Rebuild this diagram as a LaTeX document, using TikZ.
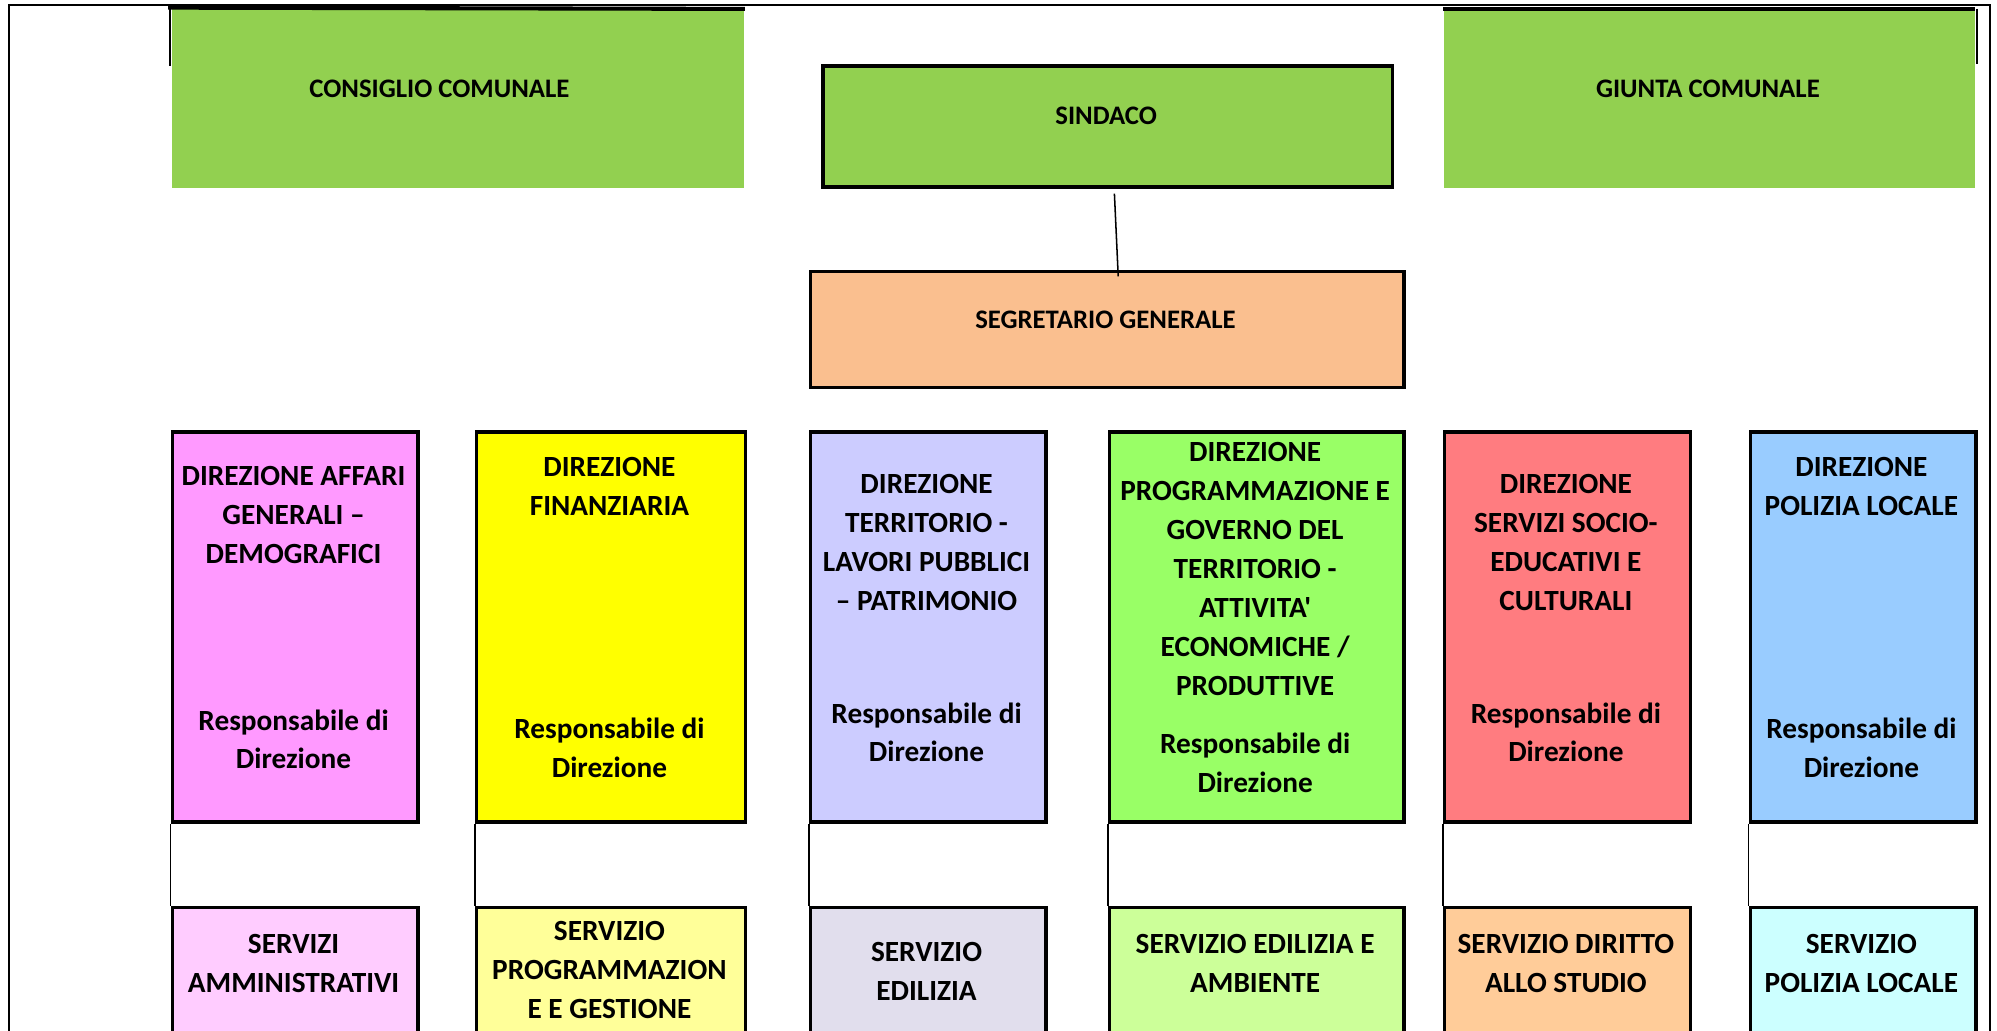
\documentclass[tikz,border=0pt]{standalone}
\usepackage{fontspec}
\newfontfamily\carl{Carlito}
\definecolor{topgreen}{HTML}{92D050}
\definecolor{segr}{HTML}{FABF8F}
\definecolor{dpink}{HTML}{FF99FF}
\definecolor{dyellow}{HTML}{FFFF00}
\definecolor{dlav}{HTML}{CCCCFF}
\definecolor{dgreen}{HTML}{99FF66}
\definecolor{dred}{HTML}{FF7C80}
\definecolor{dblue}{HTML}{99CCFF}
\definecolor{spink}{HTML}{FFCCFF}
\definecolor{syellow}{HTML}{FFFF99}
\definecolor{slav}{HTML}{E1DEED}
\definecolor{sgreen}{HTML}{CCFF99}
\definecolor{sorange}{HTML}{FFCC99}
\definecolor{scyan}{HTML}{CCFFFF}
\tikzset{
  box/.style={draw=black, line width=1.35pt, inner sep=0pt, anchor=north west},
  plainbox/.style={draw=none, inner sep=0pt, anchor=north west},
  toptxt/.style={font=\carl\bfseries\fontsize{10.5}{15.5}\selectfont, align=center, inner sep=0pt},
  txt/.style={font=\carl\bfseries\fontsize{11.5}{15.3}\selectfont, align=center, inner sep=0pt},
  conn/.style={draw=black, line width=0.6pt},
  frame/.style={draw=black, line width=1.1pt}
}
\begin{document}
\begin{tikzpicture}[x=0.5pt,y=-0.5pt]
\useasboundingbox (0,0) rectangle (1568,809);
\clip (0,0) rectangle (1568,809);
% outer frame
\coordinate (f1) at (7,815);
\coordinate (f2) at (7,4);
\coordinate (f3) at (1562.5,4);
\coordinate (f4) at (1562.5,815);
\draw[frame] (f1) -- (f2) -- (f3) -- (f4);
% top row
\node[plainbox, fill=topgreen, minimum width=224.5pt, minimum height=70pt] (cons) at (135,7) {};
\node[toptxt] (tcons) at (345,70) {CONSIGLIO COMUNALE};
\draw[line width=1.6pt] (cons.north west) ++(-3,-1) coordinate (ca) -- (cons.north east);
\draw[line width=1.1pt] (ca) ++(1.5,0) coordinate (cb) -- ++(0,46) coordinate (cc);
\node[plainbox, fill=topgreen, minimum width=208.5pt, minimum height=70pt] (giun) at (1133,7) {};
\node[toptxt] (tgiun) at (1341,70) {GIUNTA COMUNALE};
\draw[line width=1.6pt] (giun.north west) -- (giun.north east) ++(2,0) coordinate (ga);
\draw[line width=1.1pt] (ga) ++(-0.5,0) coordinate (gb) -- ++(0,43) coordinate (gc);
\node[box, fill=topgreen, minimum width=223.5pt, minimum height=47.5pt] (sind) at (645,50.5) {};
\node[toptxt] (tsind) at (868.5,91) {SINDACO};
\node[box, fill=segr, minimum width=233pt, minimum height=45.5pt] (segr) at (635,212) {};
\node[toptxt] (tsegr) at (868,251) {SEGRETARIO GENERALE};
\coordinate (l1) at (875,152);
\coordinate (l2) at (878,217);
\draw[conn] (l1) -- (l2);
% direction boxes
\node[box, fill=dpink,   minimum width=96.5pt,  minimum height=153pt] (d1) at (134,338) {};
\node[box, fill=dyellow, minimum width=105.5pt, minimum height=153pt] (d2) at (373,338) {};
\node[box, fill=dlav,    minimum width=92.5pt,  minimum height=153pt] (d3) at (635,338) {};
\node[box, fill=dgreen,  minimum width=115.5pt, minimum height=153pt] (d4) at (870,338) {};
\node[box, fill=dred,    minimum width=96.5pt,  minimum height=153pt] (d5) at (1133,338) {};
\node[box, fill=dblue,   minimum width=88.5pt,  minimum height=153pt] (d6) at (1373,338) {};
\node[txt] (t1) at (230.5,404) {DIREZIONE AFFARI\\GENERALI –\\DEMOGRAFICI};
\node[txt] (r1) at (230.5,580.5) {Responsabile di\\Direzione};
\node[txt] (t2) at (478.5,382) {DIREZIONE\\FINANZIARIA};
\node[txt] (r2) at (478.5,587.5) {Responsabile di\\Direzione};
\node[txt] (t3) at (727.5,426) {DIREZIONE\\TERRITORIO -\\LAVORI PUBBLICI\\– PATRIMONIO};
\node[txt] (r3) at (727.5,575) {Responsabile di\\Direzione};
\node[txt] (t4) at (985.5,447) {DIREZIONE\\PROGRAMMAZIONE E\\GOVERNO DEL\\TERRITORIO -\\ATTIVITA'\\ECONOMICHE /\\PRODUTTIVE};
\node[txt] (r4) at (985.5,599) {Responsabile di\\Direzione};
\node[txt] (t5) at (1229.5,426) {DIREZIONE\\SERVIZI SOCIO-\\EDUCATIVI E\\CULTURALI};
\node[txt] (r5) at (1229.5,575) {Responsabile di\\Direzione};
\node[txt] (t6) at (1461.5,382) {DIREZIONE\\POLIZIA LOCALE};
\node[txt] (r6) at (1461.5,587.5) {Responsabile di\\Direzione};
% service boxes
\node[box, fill=spink,   minimum width=96.5pt,  minimum height=60pt] (s1) at (134,711) {};
\node[box, fill=syellow, minimum width=105.5pt, minimum height=60pt] (s2) at (373,711) {};
\node[box, fill=slav,    minimum width=92.5pt,  minimum height=60pt] (s3) at (635,711) {};
\node[box, fill=sgreen,  minimum width=115.5pt, minimum height=60pt] (s4) at (870,711) {};
\node[box, fill=sorange, minimum width=96.5pt,  minimum height=60pt] (s5) at (1133,711) {};
\node[box, fill=scyan,   minimum width=88.5pt,  minimum height=60pt] (s6) at (1373,711) {};
\node[txt] (u1) at (230.5,756.5) {SERVIZI\\AMMINISTRATIVI};
\node[txt] (u2) at (478.5,761.5) {SERVIZIO\\PROGRAMMAZION\\E E GESTIONE};
\node[txt] (u3) at (727.5,762.5) {SERVIZIO\\EDILIZIA};
\node[txt] (u4) at (985.5,756.5) {SERVIZIO EDILIZIA E\\AMBIENTE};
\node[txt] (u5) at (1229.5,756.5) {SERVIZIO DIRITTO\\ALLO STUDIO};
\node[txt] (u6) at (1461.5,756.5) {SERVIZIO\\POLIZIA LOCALE};
% connectors
\foreach \i in {1,...,6} {\draw[conn] (d\i.south west) -- (s\i.north west);}
\end{tikzpicture}
\end{document}
